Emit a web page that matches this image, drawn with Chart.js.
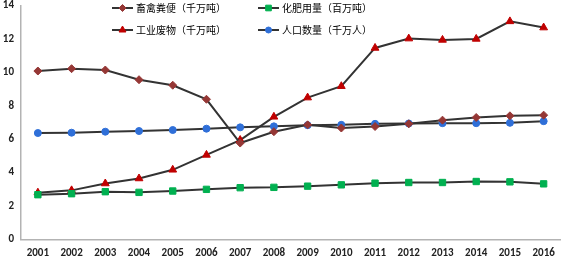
<!DOCTYPE html>
<html>
<head>
<meta charset="utf-8">
<script src="https://cdn.jsdelivr.net/npm/chart.js@4"></script>
<style>
  html, body { margin: 0; padding: 0; background: #fff; }
  #wrap { width: 566px; height: 258px; }
</style>
</head>
<body>
<div id="wrap"><canvas id="c" width="566" height="258"></canvas></div>
<script>
const years = ['2001','2002','2003','2004','2005','2006','2007','2008','2009','2010','2011','2012','2013','2014','2015','2016'];

// 畜禽粪便（千万吨）
const manure = [10.08, 10.22, 10.14, 9.56, 9.23, 8.39, 5.77, 6.45, 6.86, 6.67, 6.76, 6.92, 7.14, 7.30, 7.40, 7.44];
// 化肥用量（百万吨）
const fertilizer = [2.68, 2.74, 2.86, 2.82, 2.90, 3.00, 3.10, 3.12, 3.19, 3.27, 3.37, 3.41, 3.41, 3.47, 3.45, 3.33];
// 工业废物（千万吨）
const industrial = [2.80, 2.94, 3.35, 3.65, 4.17, 5.06, 5.95, 7.34, 8.49, 9.17, 11.46, 12.02, 11.94, 12.00, 13.05, 12.68];
// 人口数量（千万人）
const population = [6.37, 6.39, 6.45, 6.49, 6.55, 6.63, 6.71, 6.77, 6.84, 6.86, 6.92, 6.94, 6.96, 6.96, 6.98, 7.08];

const yTicks = [0, 2, 4, 6, 8, 10, 12, 14];

const lineColor = '#333333';
const tickFont = { family: 'Calibri, "Liberation Sans", Arial, sans-serif', size: 11, weight: 'bold' };

function ds(label, data, style, color, r) {
  return {
    label: label,
    data: data,
    borderColor: lineColor,
    borderWidth: 2,
    pointStyle: style,
    pointRadius: r,
    pointBackgroundColor: color,
    pointBorderColor: color,
    pointBorderWidth: 1,
    tension: 0
  };
}

// legend 2x2 drawn on the canvas, inside plot area
const legendPlugin = {
  id: 'gridLegend',
  afterDraw(chart) {
    const ctx = chart.ctx;
    const spots = [[112, 8], [258, 8], [112, 30], [258, 30]];
    chart.data.datasets.forEach((d, i) => {
      const [x, y] = spots[i];
      ctx.save();
      ctx.strokeStyle = lineColor;
      ctx.lineWidth = 2;
      ctx.beginPath();
      ctx.moveTo(x, y);
      ctx.lineTo(x + 21, y);
      ctx.stroke();
      ctx.fillStyle = d.pointBackgroundColor;
      ctx.strokeStyle = d.pointBorderColor;
      ctx.lineWidth = 1;
      Chart.helpers.drawPoint(ctx, { pointStyle: d.pointStyle, radius: d.pointRadius - 0.5, borderWidth: 1 }, x + 10.5, y);
      ctx.fillStyle = '#000';
      ctx.font = '10px "Noto Sans CJK SC"';
      ctx.textBaseline = 'middle';
      ctx.fillText(d.label, x + 24, y);
      ctx.restore();
    });
  }
};

new Chart(document.getElementById('c'), {
  type: 'line',
  data: {
    labels: years,
    datasets: [
      ds('畜禽粪便（千万吨）', manure, 'rectRot', '#953735', 4),
      ds('化肥用量（百万吨）', fertilizer, 'rect', '#00B050', 4.5),
      ds('工业废物（千万吨）', industrial, 'triangle', '#C00000', 4.5),
      ds('人口数量（千万人）', population, 'circle', '#2F6FD8', 3.5)
    ]
  },
  options: {
    responsive: false,
    animation: false,
    layout: { padding: { top: 0, right: 4, left: 0, bottom: 0 } },
    plugins: {
      legend: { display: false },
      tooltip: { enabled: false }
    },
    scales: {
      x: {
        offset: true,
        grid: { display: false, drawTicks: false },
        border: { display: true, color: '#b3b3b3', width: 1.5 },
        ticks: { color: '#222', font: tickFont, padding: 7, maxRotation: 0, autoSkip: false },
        afterFit: (s) => { s.height = 18.5; }
      },
      y: {
        min: 0,
        max: 14,
        afterBuildTicks: (s) => { s.ticks = yTicks.map(v => ({ value: v })); },
        grid: { display: false, drawTicks: false },
        border: { display: true, color: '#b3b3b3', width: 1.5 },
        ticks: { color: '#222', font: tickFont, padding: 7 },
        afterFit: (s) => { s.width = 21; s.paddingTop = 4; s.paddingBottom = 0; }
      }
    }
  },
  plugins: [legendPlugin]
});
</script>
</body>
</html>
